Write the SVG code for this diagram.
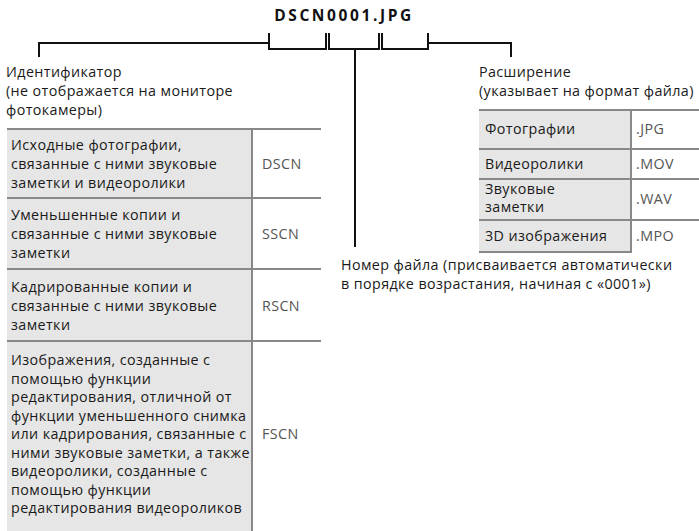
<svg xmlns="http://www.w3.org/2000/svg" width="699" height="531" viewBox="0 0 699 531">
<style>
text{font-family:"Open Sans","Noto Sans","Liberation Sans",sans-serif;font-size:14.3px;letter-spacing:0.4px;fill:#1a1a1a}
.code{fill:#555}
.title{font-weight:bold;font-size:15.5px;letter-spacing:2.6px;fill:#111}
.cell{fill:#e6e6e6}
.rule{stroke:#888;stroke-width:2;fill:none}
.con{stroke:#111;stroke-width:2;fill:none}
</style>
<rect width="699" height="531" fill="#fff"/>
<g id="title"><text class="title" x="344" y="21" text-anchor="middle">DSCN0001.JPG</text></g>
<g id="connectors">
<path class="con" d="M39,57V43H269"/>
<path class="con" d="M269,33V49H326V33"/>
<path class="con" d="M329,33V49H379V33"/>
<path class="con" d="M382,33V49H428V33"/>
<path class="con" d="M428,43H511V57"/>
<path class="con" d="M355,49V247"/>
</g>
<g id="identifier">
<text x="6" y="77">Идентификатор</text>
<text x="6" y="96">(не отображается на мониторе</text>
<text x="6" y="115">фотокамеры)</text>
</g>
<g id="extension">
<text x="479" y="77">Расширение</text>
<text x="479" y="96">(указывает на формат файла)</text>
</g>
<g id="number">
<text x="341" y="270">Номер файла (присваивается автоматически</text>
<text x="341" y="289">в порядке возрастания, начиная с «0001»)</text>
</g>
<g id="id-table">
<rect class="cell" x="7" y="129" width="245" height="402"/>
<path class="rule" d="M7,129H321M7,198H321M7,269H321M7,341H321M252,129V531"/>
<text x="11" y="150">Исходные фотографии,</text>
<text x="11" y="169">связанные с ними звуковые</text>
<text x="11" y="188">заметки и видеоролики</text>
<text class="code" x="262" y="169">DSCN</text>
<text x="11" y="220">Уменьшенные копии и</text>
<text x="11" y="239">связанные с ними звуковые</text>
<text x="11" y="258">заметки</text>
<text class="code" x="262" y="239">SSCN</text>
<text x="11" y="292">Кадрированные копии и</text>
<text x="11" y="311">связанные с ними звуковые</text>
<text x="11" y="330">заметки</text>
<text class="code" x="262" y="311">RSCN</text>
<text x="11" y="365">Изображения, созданные с</text>
<text x="11" y="383.5">помощью функции</text>
<text x="11" y="402">редактирования, отличной от</text>
<text x="11" y="420.5">функции уменьшенного снимка</text>
<text x="11" y="439">или кадрирования, связанные с</text>
<text x="11" y="457.5">ними звуковые заметки, а также</text>
<text x="11" y="476">видеоролики, созданные с</text>
<text x="11" y="494.5">помощью функции</text>
<text x="11" y="513">редактирования видеороликов</text>
<text class="code" x="262" y="439">FSCN</text>
</g>
<g id="ext-table">
<rect class="cell" x="479" y="110" width="152" height="142"/>
<path class="rule" d="M479,110H699M479,149H699M479,179H699M479,220H699M479,252H632M631,110V252"/>
<text x="485" y="134">Фотографии</text>
<text class="code" x="636" y="134">.JPG</text>
<text x="485" y="169">Видеоролики</text>
<text class="code" x="636" y="169">.MOV</text>
<text x="485" y="194">Звуковые</text>
<text x="485" y="212">заметки</text>
<text class="code" x="636" y="204">.WAV</text>
<text x="485" y="241">3D изображения</text>
<text class="code" x="636" y="241">.MPO</text>
</g>
</svg>
